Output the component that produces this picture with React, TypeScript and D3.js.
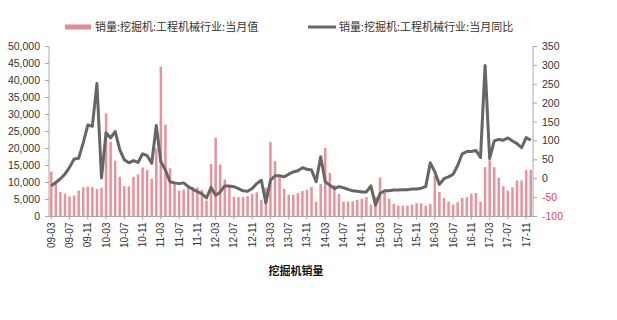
import React from "react";
import * as d3 from "d3";

const months = [
  "09-03","09-04","09-05","09-06","09-07","09-08","09-09","09-10","09-11","09-12",
  "10-01","10-02","10-03","10-04","10-05","10-06","10-07","10-08","10-09","10-10","10-11","10-12",
  "11-01","11-02","11-03","11-04","11-05","11-06","11-07","11-08","11-09","11-10","11-11","11-12",
  "12-01","12-02","12-03","12-04","12-05","12-06","12-07","12-08","12-09","12-10","12-11","12-12",
  "13-01","13-02","13-03","13-04","13-05","13-06","13-07","13-08","13-09","13-10","13-11","13-12",
  "14-01","14-02","14-03","14-04","14-05","14-06","14-07","14-08","14-09","14-10","14-11","14-12",
  "15-01","15-02","15-03","15-04","15-05","15-06","15-07","15-08","15-09","15-10","15-11","15-12",
  "16-01","16-02","16-03","16-04","16-05","16-06","16-07","16-08","16-09","16-10","16-11","16-12",
  "17-01","17-02","17-03","17-04","17-05","17-06","17-07","17-08","17-09","17-10","17-11","17-12",
];

// 当月值 (units)
const salesValues = [
  13200, 9600, 7200, 6700, 5900, 6200, 7600, 8600, 8800, 8700,
  8100, 8500, 30300, 22000, 16400, 11700, 8900, 8900, 11700, 12400, 14400, 13700,
  11100, 20000, 44100, 27000, 14200, 9700, 7600, 7900, 8400, 8700, 8600, 7800,
  4700, 15500, 23200, 15300, 10900, 8700, 5800, 5700, 5700, 6000, 6600, 7100,
  4900, 8500, 21900, 16300, 11600, 8100, 6400, 6400, 6900, 7500, 7900, 8700,
  4400, 9600, 20200, 12800, 9200, 6600, 4400, 4400, 4500, 4900, 5200, 5700,
  3500, 5800, 11500, 7200, 5200, 3700, 3200, 3200, 3200, 3500, 3900, 3900,
  3200, 3700, 12000, 7200, 5500, 4400, 3500, 4200, 5500, 5700, 6700, 6900,
  4400, 14500, 16500, 14500, 11400, 8900, 7600, 8600, 10600, 10600, 13700, 13700,
];

// 当月同比 (%)
const yoyValues = [
  -19, -10, 0, 12, 30, 52, 54, 95, 142, 139,
  252, 2, 122, 108, 125, 77, 50, 42, 48, 43, 66, 61,
  41, 141, 45, 23, -8, -11, -13, -11, -21, -28, -34, -40,
  -51, -23, -44, -35, -19, -19, -21, -26, -32, -33, -26, -13,
  -4, -64, -4, 8, 8, 5, 12, 18, 21, 29, 25, 23,
  -8, 58, -8, -17, -26, -21, -24, -28, -32, -33, -35, -35,
  -19, -70, -39, -32, -32, -30, -30, -29, -29, -27, -27, -25,
  -21, 42, 18, -15, 0, 5, 12, 35, 66, 72, 72, 75,
  56, 300, 53, 100, 104, 102, 108, 100, 93, 82, 109, 102,
];

const leftTicks = [0, 5000, 10000, 15000, 20000, 25000, 30000, 35000, 40000, 45000, 50000];
const rightTicks = [-100, -50, 0, 50, 100, 150, 200, 250, 300, 350];
const seriesNames = ["销量:挖掘机:工程机械行业:当月值", "销量:挖掘机:工程机械行业:当月同比"];
const chartTitle = "挖掘机销量";

const W = 617;
const H = 320;
const L = 49;
const R = 533;
const TOP = 46.5;
const BOT = 216.5;

const numFont = "'Liberation Sans', Arial, sans-serif";
const cjkFont = "'Noto Sans CJK SC', sans-serif";

export default function App() {
  const x = d3.scaleBand<string>().domain(months).range([L, R]).paddingInner(0.45).paddingOuter(0.22);
  const yL = d3.scaleLinear().domain([0, 50000]).range([BOT, TOP]);
  const yR = d3.scaleLinear().domain([-100, 350]).range([BOT, TOP]);
  const fmt = d3.format(",");
  const line = d3
    .line<number>()
    .x((_, i) => (x(months[i]) as number) + x.bandwidth() / 2)
    .y((d) => yR(d))
    .curve(d3.curveLinear);
  const axisColor = "#a8a8a8";

  return (
    <svg width={W} height={H} style={{ position: "absolute", left: 0, top: 0, background: "#fff" }}>
      {/* legend */}
      <rect x={65} y={24.5} width={26} height={5} fill="#e58a94" />
      <text x={95} y={31} fontSize={11} fontFamily={cjkFont} fill="#333">{seriesNames[0]}</text>
      <line x1={308} x2={336} y1={27} y2={27} stroke="#666" strokeWidth={3} />
      <text x={339} y={31} fontSize={11} fontFamily={cjkFont} fill="#333">{seriesNames[1]}</text>

      {/* bars */}
      {salesValues.map((v, i) => (
        <rect
          key={i}
          x={x(months[i]) as number}
          y={yL(v)}
          width={x.bandwidth()}
          height={BOT - yL(v)}
          fill="#e8939b"
        />
      ))}

      {/* axes */}
      <line x1={L} x2={L} y1={TOP} y2={BOT} stroke={axisColor} />
      {leftTicks.map((t) => (
        <g key={t}>
          <line x1={L - 4} x2={L} y1={yL(t)} y2={yL(t)} stroke={axisColor} />
          <text x={40} y={yL(t) + 3.5} textAnchor="end" fontSize={10.5} fontFamily={numFont} fill="#333">
            {fmt(t)}
          </text>
        </g>
      ))}
      <line x1={R} x2={R} y1={TOP} y2={BOT} stroke={axisColor} />
      {rightTicks.map((t) => (
        <g key={t}>
          <line x1={R} x2={R + 4} y1={yR(t)} y2={yR(t)} stroke={axisColor} />
          <text x={542} y={yR(t) + 3.5} fontSize={10.5} fontFamily={numFont} fill={t < 0 ? "#e0485a" : "#333"}>
            {t}
          </text>
        </g>
      ))}
      <line x1={L} x2={R} y1={BOT} y2={BOT} stroke={axisColor} />
      {months.map((m, i) =>
        i % 4 === 0 ? (
          <g key={m}>
            <line
              x1={(x(m) as number) + x.bandwidth() / 2}
              x2={(x(m) as number) + x.bandwidth() / 2}
              y1={BOT}
              y2={BOT + 3}
              stroke={axisColor}
            />
            <text
              transform={`translate(${(x(m) as number) + x.bandwidth() / 2 + 3.5},${BOT + 6}) rotate(-90)`}
              textAnchor="end"
              fontSize={10}
              fontFamily={numFont}
              fill="#333"
            >
              {m}
            </text>
          </g>
        ) : null
      )}

      {/* line */}
      <path d={line(yoyValues) || ""} fill="none" stroke="#666" strokeWidth={3} strokeLinejoin="round" />

      {/* title */}
      <text x={296} y={275} textAnchor="middle" fontSize={11} fontWeight="bold" fontFamily={cjkFont} fill="#111">
        {chartTitle}
      </text>
    </svg>
  );
}
